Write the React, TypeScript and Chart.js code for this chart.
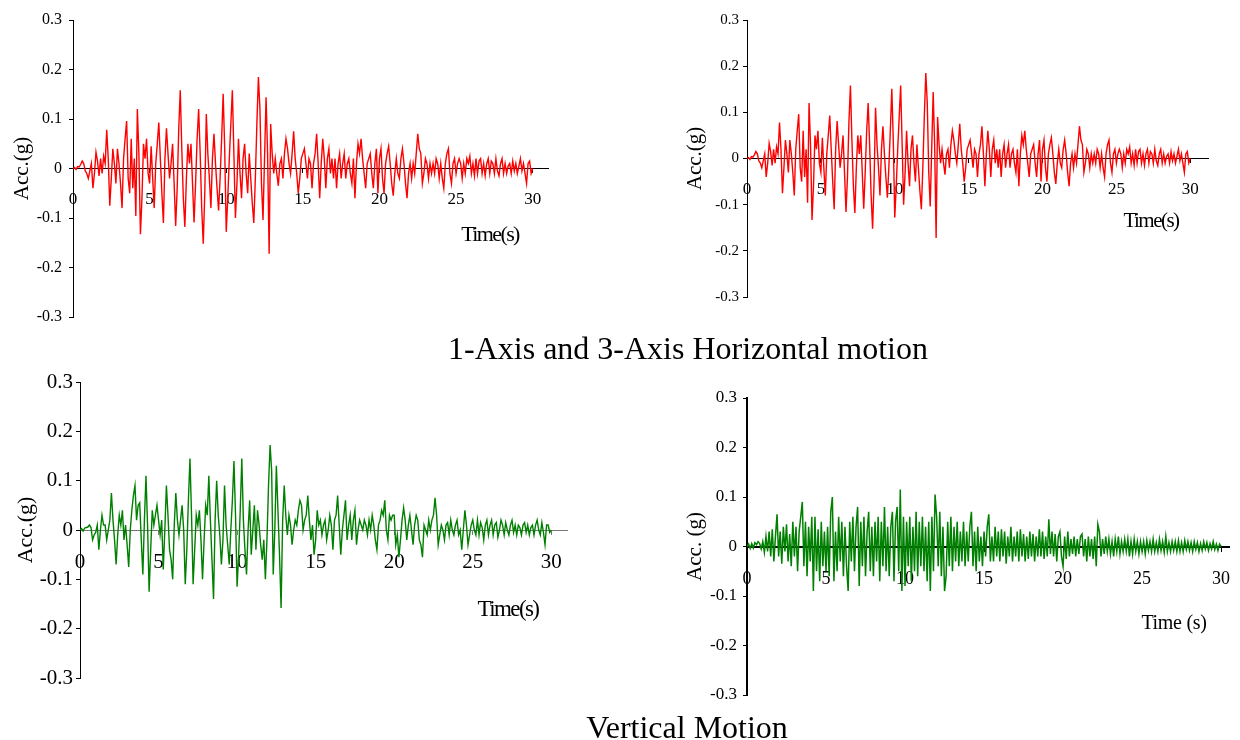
import React, { useEffect, useRef } from "react";
import { Chart, registerables } from "chart.js";

Chart.register(...registerables);

// Sampling interval of the acceleration records (s)
const SAMPLE_STEP = 0.1;

// Horizontal ground acceleration (g), 0 – 30 s
const horizontalAcc: number[] = [
  0, 0.002, -0.002, 0.004, 0.003, 0.008, 0.015, 0.01, -0.005, -0.01,
  -0.02, -0.005, 0.01, -0.04, -0.01, 0.033, 0.015, -0.015, 0.02, -0.01,
  0.025, 0.01, 0.078, 0.02, -0.075, -0.02, 0.04, 0.01, -0.03, 0.04,
  0.01, -0.03, -0.08, 0.02, 0.06, 0.096, -0.02, -0.05, 0.06, -0.04,
  0.02, -0.096, 0.12, 0.03, -0.133, -0.06, 0.05, 0.02, 0.06, -0.01,
  -0.03, 0.045, -0.02, -0.08, 0.01, 0.05, 0.093, 0.02, -0.05, -0.11,
  0.02, 0.081, 0.03, -0.02, 0.01, 0.05, -0.03, -0.116, -0.04, 0.08,
  0.158, 0.04, -0.06, -0.118, -0.02, 0.05, 0.01, 0.05, -0.03, -0.109,
  -0.03, 0.06, 0.12, 0.03, -0.08, -0.152, -0.05, 0.11, 0.03, -0.02,
  -0.08, 0.02, 0.07, 0.01, -0.04, -0.085, -0.02, 0.06, 0.151, 0.04,
  -0.128, -0.06, 0.02, 0.09, 0.158, 0.03, -0.1, -0.03, 0.06, -0.01,
  -0.06, 0.02, 0.05, -0.01, -0.05, 0.03, -0.02, -0.07, -0.11, -0.02,
  0.09, 0.185, 0.12, -0.03, -0.104, 0.02, 0.144, 0.03, -0.172, 0.09,
  0.03, -0.01, 0.02, -0.01, -0.035, 0.01, 0.02, -0.02, 0.03, 0.06,
  0.04, 0.01, -0.01, 0.03, 0.075, 0.02, -0.01, -0.05, -0.02, 0.02,
  0.03, 0.04, 0.01, -0.02, 0.02, 0.01, -0.04, 0.01, 0.03, 0.07,
  0.01, -0.06, 0.01, 0.06, 0.02, -0.04, 0.02, 0.04, -0.01, 0.02,
  -0.02, 0.02, -0.04, 0.01, 0.03, -0.02, 0.01, 0.03, -0.02, 0.01,
  0.02, -0.01, -0.03, 0.02, -0.06, 0.01, 0.05, 0.03, 0.06, 0.02,
  -0.01, -0.04, 0.01, 0.02, 0.03, -0.01, -0.04, 0.01, 0.04, -0.05,
  0.02, 0.04, -0.02, -0.05, 0.01, 0.03, 0.045, 0.01, -0.03, -0.055,
  -0.01, 0.02, -0.01, -0.02, 0.02, 0.04, 0.01, -0.03, -0.06, -0.01,
  0.01, -0.02, 0.01, -0.01, 0.03, 0.07, 0.04, 0.03, -0.03, -0.01,
  0.02, 0.01, -0.02, 0.01, -0.01, 0.01, -0.01, 0.02, 0.01, -0.02,
  0.01, -0.02, -0.04, 0.01, 0.03, 0.04, -0.01, -0.03, 0.01, 0.02,
  -0.01, 0.01, 0.02, 0.01, -0.02, 0.01, -0.01, 0.02, 0.01, 0.025,
  -0.01, 0.01, -0.015, 0.02, -0.01, 0.015, 0.02, -0.01, 0.01, -0.015,
  0.01, 0.02, -0.01, 0.015, 0.01, -0.01, 0.02, -0.005, -0.015, 0.01,
  0.02, -0.01, 0.01, -0.01, 0.005, 0.01, -0.01, 0.015, -0.005, 0.01,
  -0.01, 0.005, 0.02, -0.005, 0.01, -0.01, -0.03, 0.01, 0.015, -0.01,
  0,
];

// Vertical acceleration, first record (g)
const verticalAccA: number[] = [
  0, 0.003, -0.002, 0.004, 0.005, 0.006, 0.01, 0.005, -0.02, -0.01,
  -0.005, 0.01, -0.04, 0, 0.03, 0.01, 0.01, -0.02, 0, 0.02,
  0.075, 0.02, -0.02, -0.07, -0.01, 0.03, 0.01, 0.04, -0.02, 0.01,
  -0.03, -0.075, 0, 0.04, 0.07, 0.09, 0.02, 0.05, 0.055, -0.02,
  -0.09, 0.02, 0.11, 0.01, -0.125, -0.04, 0.04, 0.01, 0.03, 0.05,
  0.02, -0.01, 0.02, -0.08, 0, 0.09, 0.03, -0.04, -0.06, -0.1,
  0.01, 0.075, 0.02, -0.01, 0.02, 0.05, 0, -0.11, -0.04, 0.06,
  0.145, 0.03, -0.11, -0.04, 0.03, 0.01, 0.04, -0.02, -0.1, -0.02,
  0.05, 0.03, 0.11, 0.02, -0.06, -0.14, 0.02, 0.1, 0.03, -0.01,
  -0.07, -0.02, 0.09, 0.01, -0.03, -0.07, 0, 0.06, 0.14, 0.03,
  -0.115, -0.05, 0.04, 0.145, 0.02, -0.04, -0.09, 0, 0.06, -0.05,
  0, 0.05, -0.04, 0.04, 0.01, -0.03, -0.06, -0.02, -0.1, -0.02,
  0.09, 0.172, 0.12, -0.09, 0, 0.13, 0.04, -0.05, -0.158, 0.02,
  0.09, 0.03, -0.01, 0.03, 0.01, -0.03, 0, 0.02, 0.01, 0.04,
  0.06, 0.05, 0, 0.02, 0.03, 0.07, 0.02, -0.02, 0.01, -0.05,
  -0.02, 0.04, 0.01, 0.02, -0.01, 0.01, 0.02, -0.02, 0, 0.03,
  0.01, -0.04, 0.02, 0.03, 0.07, 0.01, -0.05, 0, 0.03, 0.06,
  -0.02, 0.01, 0.03, -0.02, 0.02, 0.04, -0.03, 0, 0.02, 0.01,
  0, 0.02, 0.01, -0.01, 0.02, 0, 0.03, 0.01, -0.02, -0.04,
  0.01, 0.02, 0.04, 0.03, 0.06, 0, -0.02, 0.03, 0.02, 0.03,
  0.03, -0.03, -0.01, -0.055, -0.02, 0.02, 0.045, 0.02, -0.02, 0.01,
  0.03, 0, -0.03, 0.01, 0.03, 0.02, -0.02, -0.03, -0.055, 0.01,
  0, -0.01, 0.02, 0, 0.02, 0.03, 0.065, 0.03, -0.03, -0.01,
  0.01, 0, -0.02, 0.01, 0.015, -0.01, 0.02, 0, -0.01, 0.01,
  0.02, -0.01, 0, -0.04, 0, 0.04, 0.01, -0.03, -0.01, 0.01,
  0.02, 0, -0.01, 0.02, -0.01, 0.015, 0.005, -0.02, 0.01, 0.02,
  -0.01, 0.01, 0.02, -0.01, 0.01, 0.015, -0.015, 0, 0.02, 0.01,
  -0.01, 0.015, 0, -0.01, 0.01, 0.02, -0.005, 0.01, -0.01, 0.01,
  0.005, -0.01, 0.01, 0.015, -0.005, 0.01, -0.01, 0.005, 0.01, -0.01,
  0.01, 0.02, 0, -0.01, 0.015, -0.005, -0.03, 0.01, 0.01, -0.005,
  0,
];

// Vertical acceleration, second record (g)
const verticalAccB: number[] = [
  0, 0.005, -0.004, 0.006, -0.003, 0.008, 0.004, 0.01, 0.006, -0.005,
  0.01, -0.012, 0.02, -0.01, 0.03, -0.02, 0.035, -0.03, 0.02, 0.065,
  -0.02, 0.03, -0.035, 0.04, -0.01, 0.045, -0.03, 0.025, -0.04, 0.05,
  -0.02, 0.04, -0.05, 0.03, 0.06, 0.09, -0.04, 0.05, -0.06, 0.04,
  -0.03, 0.06, -0.09, 0.06, -0.05, 0.035, -0.07, 0.05, -0.04, 0.03,
  -0.05, 0.04, -0.06, 0.07, 0.1, -0.07, 0.03, -0.05, 0.06, -0.03,
  0.05, -0.06, 0.04, -0.04, -0.09, 0.05, -0.03, 0.06, -0.05, 0.04,
  0.08, -0.08, 0.05, -0.04, 0.06, -0.06, 0.03, 0.07, -0.05, 0.04,
  -0.06, 0.05, -0.03, 0.06, -0.07, 0.05, -0.04, 0.08, -0.05, 0.04,
  -0.06, 0.04, 0.07, -0.07, 0.05, 0.08, -0.05, 0.115, -0.09, 0.06,
  -0.08, 0.05, -0.04, 0.06, -0.07, 0.04, -0.05, 0.07, -0.06, 0.05,
  -0.04, 0.06, -0.05, 0.04, -0.07, 0.05, -0.09, 0.06, -0.05, 0.105,
  0.06, -0.04, 0.07, -0.06, 0.04, -0.09, -0.06, 0.05, -0.04, 0.06,
  -0.05, 0.04, -0.03, 0.05, -0.04, 0.03, -0.03, 0.05, -0.04, 0.03,
  -0.03, 0.04, 0.07, -0.04, 0.03, -0.05, 0.04, -0.03, 0.02, -0.04,
  0.03, -0.02, 0.04, 0.065, -0.03, 0.02, -0.03, 0.04, -0.02, 0.03,
  -0.03, 0.035, -0.02, 0.03, -0.035, 0.02, -0.02, 0.04, -0.03, 0.02,
  -0.02, 0.03, -0.03, 0.035, -0.02, 0.025, -0.03, 0.02, -0.025, 0.03,
  -0.02, 0.025, -0.03, 0.02, -0.02, 0.035, -0.02, 0.03, -0.025, 0.02,
  -0.02, 0.055, -0.015, 0.03, -0.02, 0.025, -0.03, 0.02, 0.03, -0.02,
  -0.04, 0.02, -0.025, 0.03, -0.02, 0.015, -0.015, 0.02, -0.02, 0.015,
  -0.015, 0.02, 0.025, -0.02, 0.015, -0.03, 0.02, -0.02, 0.015, -0.025,
  0.02, -0.04, 0.045, 0.03, -0.02, 0.015, -0.015, 0.02, -0.01, 0.015,
  -0.015, 0.01, -0.02, 0.015, -0.01, 0.02, -0.015, 0.01, -0.01, 0.015,
  -0.01, 0.015, -0.02, 0.01, -0.015, 0.015, -0.01, 0.01, -0.015, 0.01,
  -0.01, 0.01, -0.015, 0.012, -0.008, 0.01, -0.01, 0.015, -0.01, 0.008,
  -0.01, 0.015, -0.008, 0.01, -0.012, 0.02, -0.01, 0.008, -0.01, 0.01,
  -0.008, 0.01, -0.01, 0.012, -0.01, 0.008, -0.01, 0.012, -0.006, 0.01,
  -0.008, 0.008, -0.01, 0.01, -0.006, 0.008, -0.01, 0.006, -0.008, 0.01,
  -0.005, 0.008, -0.008, 0.006, -0.005, 0.01, -0.006, 0.005, -0.008, 0.005,
  0,
];

// Axis ranges and tick spacing
const ACC_MIN = -0.3;
const ACC_MAX = 0.3;
const ACC_STEP = 0.1;
const TIME_STEP = 5;

const PAGE_W = 1240;
const PAGE_H = 740;
const Y_BOX = 70; // width reserved for the acceleration axis (ticks + title)
const SERIF = '"Liberation Serif", "Times New Roman", Times, serif';

type Panel = {
  id: string;
  series: number[];
  color: string;
  lineWidth: number;
  timeMax: number;
  frame: { left: number; top: number; right: number; bottom: number };
  axisColor: string;
  zeroColor: string;
  axisWidth: number;
  yFont: number;
  xFont: number;
  yPad: number;
  xPad: number;
  yTitle: string;
  yTitleFont: number;
  yTitlePad: number;
};

const panels: Panel[] = [
  {
    id: "h-left", series: horizontalAcc, color: "#ff0000", lineWidth: 1.4, timeMax: 31,
    frame: { left: 73, top: 20, right: 548, bottom: 317 },
    axisColor: "#000", zeroColor: "#000", axisWidth: 1,
    yFont: 16, xFont: 17, yPad: 7, xPad: 17,
    yTitle: "Acc.(g)", yTitleFont: 21, yTitlePad: 7,
  },
  {
    id: "h-right", series: horizontalAcc, color: "#ff0000", lineWidth: 1.4, timeMax: 31.2,
    frame: { left: 747, top: 20, right: 1208, bottom: 297 },
    axisColor: "#000", zeroColor: "#000", axisWidth: 1,
    yFont: 15, xFont: 17, yPad: 4, xPad: 17,
    yTitle: "Acc.(g)", yTitleFont: 21, yTitlePad: 6,
  },
  {
    id: "v-left", series: verticalAccA, color: "#008000", lineWidth: 1.4, timeMax: 31,
    frame: { left: 80, top: 382, right: 567, bottom: 678 },
    axisColor: "#000", zeroColor: "#777", axisWidth: 1,
    yFont: 21, xFont: 21, yPad: 3, xPad: 16,
    yTitle: "Acc.(g)", yTitleFont: 22, yTitlePad: 3,
  },
  {
    id: "v-right", series: verticalAccB, color: "#008000", lineWidth: 1.5, timeMax: 30.5,
    frame: { left: 747, top: 398, right: 1229, bottom: 695 },
    axisColor: "#000", zeroColor: "#000", axisWidth: 2,
    yFont: 17, xFont: 18, yPad: 6, xPad: 18,
    yTitle: "Acc. (g)", yTitleFont: 21, yTitlePad: 6,
  },
];

const formatAcc = (v: number | string) => {
  const r = Math.round(Number(v) * 10) / 10;
  return r === 0 ? "0" : r.toFixed(1);
};

function buildConfig(p: Panel): any {
  const points = p.series.map((v, i) => ({ x: Math.round(i * SAMPLE_STEP * 10) / 10, y: v }));
  return {
    type: "line",
    data: {
      datasets: [
        {
          data: points,
          borderColor: p.color,
          borderWidth: p.lineWidth,
          pointRadius: 0,
          tension: 0,
          fill: false,
        },
      ],
    },
    options: {
      responsive: false,
      animation: false,
      events: [],
      parsing: false,
      layout: {
        padding: {
          left: p.frame.left - Y_BOX,
          top: p.frame.top,
          right: PAGE_W - p.frame.right,
          bottom: PAGE_H - p.frame.bottom,
        },
      },
      plugins: { legend: { display: false }, tooltip: { enabled: false }, title: { display: false } },
      scales: {
        x: {
          type: "linear",
          min: 0,
          max: p.timeMax,
          position: { y: 0 },
          z: 1,
          // the plot frame is fixed by the layout padding; tick labels may overhang it
          afterFit: (s: any) => {
            s.paddingLeft = 0;
            s.paddingRight = 0;
          },
          border: { display: true, color: p.zeroColor, width: p.axisWidth },
          grid: { display: true, drawOnChartArea: false, drawTicks: true, tickLength: 4, color: p.zeroColor, lineWidth: 1 },
          ticks: {
            stepSize: TIME_STEP,
            includeBounds: false,
            autoSkip: false,
            maxRotation: 0,
            padding: p.xPad,
            color: "#000",
            font: { family: SERIF, size: p.xFont },
            callback: (v: number | string) => String(Math.round(Number(v))),
          },
        },
        y: {
          type: "linear",
          min: ACC_MIN,
          max: ACC_MAX,
          position: "left",
          afterFit: (s: any) => {
            s.width = Y_BOX;
          },
          border: { display: true, color: p.axisColor, width: p.axisWidth },
          grid: { display: true, drawOnChartArea: false, drawTicks: true, tickLength: 4, color: p.axisColor, lineWidth: 1 },
          ticks: {
            stepSize: ACC_STEP,
            padding: p.yPad,
            color: "#000",
            font: { family: SERIF, size: p.yFont },
            callback: formatAcc,
          },
          title: {
            display: true,
            text: p.yTitle,
            color: "#000",
            font: { family: SERIF, size: p.yTitleFont },
            padding: { top: p.yTitlePad, bottom: 0 },
          },
        },
      },
    },
  };
}

function PanelChart({ panel }: { panel: Panel }) {
  const ref = useRef<HTMLCanvasElement | null>(null);
  useEffect(() => {
    if (!ref.current) return;
    const chart = new Chart(ref.current, buildConfig(panel));
    return () => chart.destroy();
  }, [panel]);
  return (
    <canvas
      ref={ref}
      width={PAGE_W}
      height={PAGE_H}
      style={{ position: "absolute", left: 0, top: 0, width: PAGE_W, height: PAGE_H }}
    />
  );
}

type Caption = { text: string; x: number; y: number; size: number; spacing: number };

const captions: Caption[] = [
  { text: "Time(s)", x: 490, y: 234, size: 22, spacing: -1.6 },
  { text: "Time(s)", x: 1151, y: 220, size: 21, spacing: -1.5 },
  { text: "Time(s)", x: 508, y: 608, size: 23, spacing: -1.6 },
  { text: "Time (s)", x: 1174, y: 622, size: 20, spacing: -0.3 },
  { text: "1-Axis and 3-Axis Horizontal motion", x: 688, y: 348, size: 32, spacing: 0 },
  { text: "Vertical Motion", x: 687, y: 727, size: 32, spacing: 0 },
];

export default function App() {
  return (
    <div
      style={{
        position: "fixed",
        left: 0,
        top: 0,
        width: PAGE_W,
        height: PAGE_H,
        background: "#fff",
        overflow: "hidden",
      }}
    >
      {panels.map((p) => (
        <PanelChart key={p.id} panel={p} />
      ))}
      {captions.map((c, i) => (
        <div
          key={i}
          style={{
            position: "absolute",
            left: c.x,
            top: c.y,
            transform: "translate(-50%, -50%)",
            fontFamily: SERIF,
            fontSize: c.size,
            letterSpacing: c.spacing,
            lineHeight: 1,
            whiteSpace: "nowrap",
            color: "#000",
          }}
        >
          {c.text}
        </div>
      ))}
    </div>
  );
}
